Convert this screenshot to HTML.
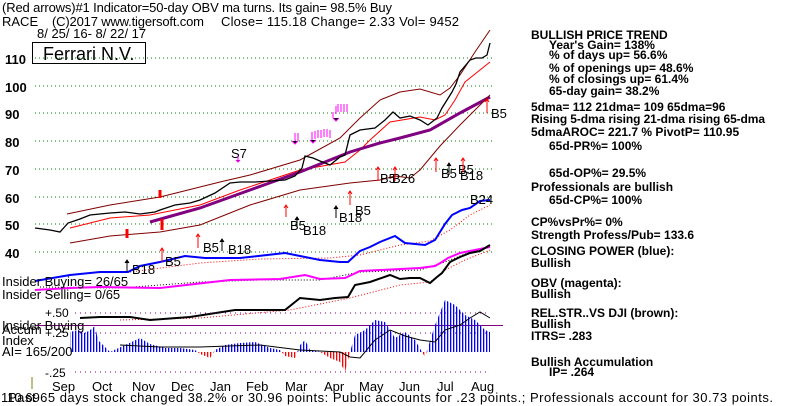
<!DOCTYPE html>
<html><head><meta charset="utf-8"><style>
html,body{margin:0;padding:0;background:#fff;}
svg{display:block;font-family:"Liberation Sans",Arial,sans-serif;}
.t{font-size:13px;fill:#000;}
.r{font-size:12px;font-weight:bold;fill:#000;}
.ax{font-size:13px;font-weight:bold;fill:#000;}
.g{stroke:#008000;stroke-width:1;stroke-dasharray:1,3;}
</style></head><body>
<svg width="800" height="406" viewBox="0 0 800 406" xmlns="http://www.w3.org/2000/svg">
<defs>
<pattern id="pb" width="3" height="10" patternUnits="userSpaceOnUse"><rect x="0" y="0" width="1.3" height="10" fill="#0000ff"/></pattern>
<pattern id="pr" width="3" height="10" patternUnits="userSpaceOnUse"><rect x="0" y="0" width="1.3" height="10" fill="#ff0000"/></pattern>
<clipPath id="cu"><rect x="0" y="0" width="800" height="352"/></clipPath>
<clipPath id="cd"><rect x="0" y="352" width="800" height="60"/></clipPath>
</defs>
<rect width="800" height="406" fill="#fff"/>
<text class="t" x="2" y="12" textLength="390">(Red arrows)#1 Indicator=50-day OBV ma turns.  Its gain= 98.5% Buy</text>
<text class="t" x="2" y="26">RACE</text>
<text class="t" x="52" y="26" textLength="152">(C)2017 www.tigersoft.com</text>
<text class="t" x="221" y="26" textLength="238">Close=  115.18  Change= 2.33 Vol= 9452</text>
<text class="t" x="37" y="38">8/ 25/ 16- 8/ 22/ 17</text>
<rect x="32.5" y="42.5" width="113" height="21" fill="#fff" stroke="#000"/>
<text x="43" y="60" font-size="18" fill="#000">Ferrari N.V.</text>
<g class="g">
<line x1="35" y1="58" x2="492" y2="58"/><line x1="35" y1="86" x2="492" y2="86"/>
<line x1="35" y1="113" x2="492" y2="113"/><line x1="35" y1="141" x2="492" y2="141"/>
<line x1="35" y1="169" x2="492" y2="169"/><line x1="35" y1="197" x2="492" y2="197"/>
<line x1="35" y1="224" x2="492" y2="224"/><line x1="35" y1="252" x2="492" y2="252"/>
</g>
<g class="ax">
<text x="5" y="64">110</text><text x="5" y="92">100</text><text x="5" y="119">90</text>
<text x="5" y="147">80</text><text x="5" y="175">70</text><text x="5" y="203">60</text>
<text x="5" y="230">50</text><text x="5" y="258">40</text>
</g>
<polyline fill="none" stroke="#800000" stroke-width="1" points="67,214 110,205 160,197 220,182 250,175 300,160 340,138 360,118 380,100 400,92 420,89 440,95 450,88 460,75 475,52 490,30"/>
<polyline fill="none" stroke="#ff0000" stroke-width="1" points="70,228 110,218 150,215 200,205 240,190 300,170 345,162 360,150 370,140 390,122 420,117 435,120 445,115 455,100 465,82 480,70 490,62"/>
<polyline fill="none" stroke="#800080" stroke-width="3" points="150,222 200,208 250,190 300,172 350,152 380,143 400,138 430,130 460,113 490,97"/>
<polyline fill="none" stroke="#800000" stroke-width="1" points="70,243 110,236 160,232 200,225 250,205 300,190 350,183 380,180 395,176 410,178 420,170 440,146 460,125 475,110 490,95"/>
<polyline fill="none" stroke="#000" stroke-width="1.3" points="35,228 50,230 60,232 68,223 80,219 90,215 110,213 125,212 140,214 155,212 160,210 175,205 190,203 200,200 215,193 230,183 240,182 255,182 270,181 285,180 295,176 302,168 305,156 313,158 320,161 330,165 340,157 345,155 350,135 360,130 375,128 385,120 393,112 400,118 410,116 420,120 428,125 437,118 442,108 447,100 452,92 456,84 460,72 465,66 470,60 476,58 482,58 487,55 490,43"/>
<polyline fill="none" stroke="#ff0000" stroke-width="1" stroke-dasharray="1,2" points="130,272 200,263 260,259 330,258 360,255 400,245 430,241 450,230 470,215 490,205"/>
<polyline fill="none" stroke="#0000ff" stroke-width="2" points="35,281 70,275 100,272 128,272 140,266 160,262 185,256 205,258 240,258 285,253 320,260 340,262 348,262 360,251 370,247 380,242 395,236 405,243 425,245 435,240 440,232 445,224 452,215 462,210 470,208 480,201 490,200"/>
<polyline fill="none" stroke="#000" stroke-width="1" stroke-dasharray="1,2" points="40,287 120,288 200,282 260,280 320,280 360,272 420,270 445,262 470,252 490,247"/>
<polyline fill="none" stroke="#ff00ff" stroke-width="2" points="35,290 70,288 100,287 160,288 230,280 280,279 305,275 320,279 345,278 360,271 380,270 420,268 435,266 442,262 448,258 460,253 475,250 490,247"/>
<polyline fill="none" stroke="#ff0000" stroke-width="1" stroke-dasharray="1,2" points="120,320 200,318 290,310 350,298 400,285 430,282 445,270 465,260 490,250"/>
<polyline fill="none" stroke="#000" stroke-width="2" points="80,318 100,317 130,317 150,320 190,317 235,310 285,310 300,298 320,300 335,298 348,297 355,285 370,282 390,275 400,279 410,278 420,278 430,283 437,277 442,273 450,262 460,257 470,253 480,251 490,245"/>
<g fill="#000" font-size="12">
<text x="45" y="317">+.50</text><text x="45" y="337">+.25</text><text x="45" y="377">-.25</text>
</g>
<g stroke="#800080" stroke-width="1" stroke-dasharray="1,4">
<line x1="75" y1="313" x2="490" y2="313"/><line x1="75" y1="333" x2="490" y2="333"/><line x1="75" y1="372" x2="490" y2="372"/>
</g>
<line x1="35" y1="325.5" x2="503" y2="325.5" stroke="#800080" stroke-width="1"/>
<polygon clip-path="url(#cu)" fill="url(#pb)" points="70,332 78,330 85,333 90,330 95,326 98,340 110,352 125,345 140,338 150,344 165,348 180,348 195,350 200,354 210,358 215,350 225,345 240,343 255,342 270,348 280,350 285,356 295,358 300,345 305,340 310,350 320,352 330,358 340,362 345,372 350,352 355,335 365,330 375,320 385,322 395,338 405,332 415,340 425,357 435,325 445,300 455,305 465,315 475,320 485,330 490,332 490,352 70,352"/>
<polygon clip-path="url(#cd)" fill="url(#pr)" points="70,332 78,330 85,333 90,330 95,326 98,340 110,352 125,345 140,338 150,344 165,348 180,348 195,350 200,354 210,358 215,350 225,345 240,343 255,342 270,348 280,350 285,356 295,358 300,345 305,340 310,350 320,352 330,358 340,362 345,372 350,352 355,335 365,330 375,320 385,322 395,338 405,332 415,340 425,357 435,325 445,300 455,305 465,315 475,320 485,330 490,332 490,352 70,352"/>
<polyline fill="none" stroke="#000" stroke-width="1" points="120,345 160,347 200,347 260,345 300,350 340,352 350,357 360,358 375,340 390,330 405,336 420,340 435,342 445,330 460,325 470,318 480,312 490,318"/>
<g class="t" font-size="13">
<text x="2" y="286">Insider Buying= 26/65</text>
<text x="2" y="299">Insider Selling= 0/65</text>
<text x="2" y="330">Insider Buying</text>
<text x="2" y="334">Accum</text>
<text x="2" y="345">Index</text>
<text x="2" y="356">AI= 165/200</text>
</g>
<line x1="32" y1="377" x2="32" y2="389" stroke="#808000"/>
<g class="t" font-size="13">
<text x="52" y="391">Sep</text><text x="92" y="391">Oct</text><text x="132" y="391">Nov</text>
<text x="171" y="391">Dec</text><text x="210" y="391">Jan</text><text x="246" y="391">Feb</text>
<text x="285" y="391">Mar</text><text x="324" y="391">Apr</text><text x="359" y="391">May</text>
<text x="399" y="391">Jun</text><text x="437" y="391">Jul</text><text x="471" y="391">Aug</text>
</g>
<text class="t" x="1" y="402">110.69</text>
<text class="t" x="8" y="402" textLength="765">Past 65 days stock changed  38.2% or  30.96 points:  Public accounts for  .23 points.;  Professionals account for  30.73 points.</text>
<g class="t" font-size="13">
<text x="231" y="158">S7</text><text x="491" y="118">B5</text>
<text x="470" y="204">B24</text>
<text x="380" y="183">B5</text><text x="392" y="183">B26</text>
<text x="441" y="178">B5</text><text x="458" y="174">B5</text><text x="460" y="180">B18</text>
<text x="339" y="222">B18</text><text x="355" y="215">B5</text>
<text x="290" y="230">B5</text><text x="303" y="235">B18</text>
<text x="203" y="252">B5</text><text x="228" y="254">B18</text>
<text x="165" y="266">B5</text><text x="132" y="274">B18</text>
</g>
<g stroke="#ff0000" stroke-width="1" fill="none">
<path d="M378,181v-14M376,170l2,-3 2,3M395,181v-14M393,170l2,-3 2,3M436,172v-14M434,161l2,-3 2,3M463,172v-14M461,161l2,-3 2,3M487,113v-14M485,102l2,-3 2,3M286,217v-12M284,208l2,-3 2,3M350,205v-14M348,194l2,-3 2,3M198,248v-14M196,237l2,-3 2,3M162,262v-14M160,251l2,-3 2,3"/>
</g>
<g stroke="#ff0000" stroke-width="3"><line x1="127" y1="229" x2="127" y2="238"/><line x1="162" y1="219" x2="162" y2="230"/><line x1="160" y1="190" x2="160" y2="198"/></g>
<g stroke="#000" stroke-width="1"><path d="M336,218v-12M334,209l2,-3 2,3M127,272v-12M125,263l2,-3 2,3M222,251v-12M220,242l2,-3 2,3M297,227v-10M295,220l2,-3 2,3M449,175v-12M447,166l2,-3 2,3"/></g>
<g stroke="#ff00ff" stroke-width="1"><path d="M295,133v8M298,133v8M312,132v8M315,131v8M318,130v8M321,130v8M324,129v8M327,129v8M330,130v8M333,112v6M336,106v8M338,104v8M341,104v8M344,104v8M347,104v8M238,156v6M292,141l3,3 3,-3M310,140l3,3 3,-3M333,118l3,3 3,-3M236,160l2,2 2,-2"/></g>
<g class="r">
<text x="531" y="39">BULLISH PRICE TREND</text>
<text x="549" y="49">Year's Gain= 138%</text>
<text x="549" y="59">% of days up= 56.6%</text>
<text x="549" y="72">% of openings up= 48.6%</text>
<text x="549" y="83">% of closings up= 61.4%</text>
<text x="549" y="95">65-day gain= 38.2%</text>
<text x="531" y="111">5dma= 112 21dma= 109 65dma=96</text>
<text x="531" y="123" textLength="234">Rising 5-dma  rising 21-dma  rising 65-dma</text>
<text x="531" y="136">5dmaAROC= 221.7 %  PivotP= 110.95</text>
<text x="549" y="150">65d-PR%= 100%</text>
<text x="549" y="177">65d-OP%= 29.5%</text>
<text x="531" y="191">Professionals are bullish</text>
<text x="549" y="204">65d-CP%= 100%</text>
<text x="531" y="226">CP%vsPr%=  0%</text>
<text x="531" y="239">Strength Profess/Pub= 133.6</text>
<text x="531" y="255">CLOSING POWER (blue):</text>
<text x="531" y="267">Bullish</text>
<text x="531" y="287">OBV (magenta):</text>
<text x="531" y="298">Bullish</text>
<text x="531" y="317">REL.STR..VS DJI (brown):</text>
<text x="531" y="328">Bullish</text>
<text x="531" y="340">ITRS= .283</text>
<text x="531" y="366">Bullish Accumulation</text>
<text x="549" y="376">IP=  .264</text>
</g>
</svg>
</body></html>
